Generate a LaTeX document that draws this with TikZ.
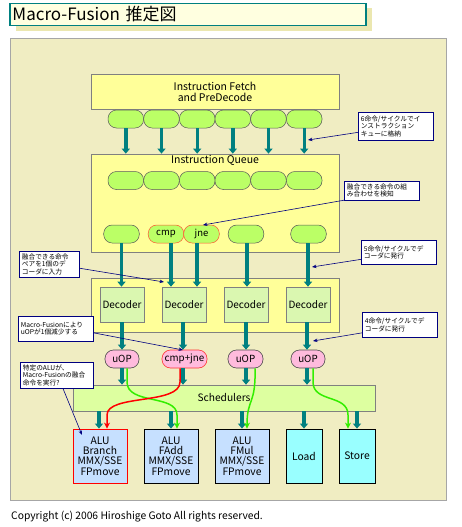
\documentclass[tikz,border=0pt]{standalone}
\usepackage{fontspec}
\setmainfont{Noto Sans CJK JP}
\usetikzlibrary{arrows.meta}
\definecolor{panelc}{HTML}{F0EDC2}
\definecolor{shadowc}{HTML}{EBE7B0}
\definecolor{titlec}{HTML}{FFFFE0}
\definecolor{tealc}{HTML}{008080}
\definecolor{yel}{HTML}{FFFF99}
\definecolor{pillc}{HTML}{BBFF66}
\definecolor{decc}{HTML}{DAF7B0}
\definecolor{schedc}{HTML}{DDFFA0}
\definecolor{pinkc}{HTML}{FFBBDD}
\definecolor{aluc}{HTML}{C6E0FF}
\definecolor{cyanc}{HTML}{99FFFF}
\definecolor{greenc}{HTML}{33EE00}
\definecolor{navyc}{HTML}{000080}
\definecolor{orangec}{HTML}{FF5533}
\tikzset{
  blk/.style={draw=gray, line width=0.7pt, fill=yel, inner sep=0pt},
  pill/.style={draw=gray!70!black, line width=0.5pt, fill=pillc, rounded corners=8.5pt,
    minimum width=35.6pt, minimum height=18pt, inner sep=0pt, font=\fontsize{9.5}{9.5}\selectfont},
  fpill/.style={pill, draw=orangec},
  decbox/.style={draw=gray, line width=0.6pt, fill=decc, minimum width=44pt, minimum height=35pt,
    inner sep=0pt, font=\fontsize{10}{10}\selectfont},
  uop/.style={draw=gray!60!black, line width=0.6pt, fill=pinkc, rounded corners=8.5pt,
    minimum height=18pt, inner sep=0pt, font=\fontsize{9.8}{9.8}\selectfont},
  unit/.style={draw=black, line width=0.8pt, fill=aluc, minimum width=54pt, minimum height=54pt,
    inner sep=0pt, align=center, font=\fontsize{10.3}{10.2}\selectfont},
  cunit/.style={unit, fill=cyanc, minimum width=36pt},
  tarrow/.style={draw=tealc, line width=3.4pt, -{Triangle[width=8pt,length=5pt]}},
  garrow/.style={draw=greenc, line width=1.5pt, -{Stealth[width=6pt,length=6pt]}},
  rarrow/.style={draw=red, line width=1.5pt, -{Stealth[width=6pt,length=6pt]}},
  note/.style={draw=navyc, line width=0.7pt, fill=white, anchor=north west, align=left,
    inner sep=2.5pt, font=\fontsize{6.7}{7.3}\selectfont},
  narrow/.style={draw=navyc, line width=0.6pt, -{Stealth[width=3.5pt,length=4.5pt]}}
}
\begin{document}
\begin{tikzpicture}[x=1pt,y=-1pt]
\useasboundingbox (0,0) rectangle (461,527);
\fill[white] (0,0) rectangle (461,527);
% title
\fill[shadowc] (16,8) rectangle (372,31);
\node[draw=tealc, line width=1.4pt, fill=titlec, minimum width=356pt, minimum height=22pt,
  inner xsep=2.5pt, inner ysep=0pt, text width=351pt, align=left,
  font=\fontsize{17}{17}\selectfont] (title) at (188,14.5) {Macro-Fusion 推定図};
% panel
\node[draw=gray!70, line width=0.8pt, fill=panelc, minimum width=436pt, minimum height=462pt,
  anchor=north west, inner sep=0pt] (panel) at (10,38) {};
% fetch
\node[blk, minimum width=248pt, minimum height=35pt, align=center,
  font=\fontsize{10.5}{11}\selectfont] (fetch) at (215,91.5) {Instruction Fetch\\and PreDecode};
\foreach \i/\x in {1/125.8,2/161.5,3/197.2,4/232.8,5/268.5,6/304.2}{
  \node[pill] (a\i) at (\x,119) {};
}
% instruction queue
\node[blk, minimum width=248pt, minimum height=98pt] (iq) at (215,203) {};
\node[font=\fontsize{10.5}{10.5}\selectfont, inner sep=0pt] (iqt) at (215,160) {Instruction Queue};
\foreach \i/\x in {1/125.8,2/161.5,3/197.2,4/232.8,5/268.5,6/304.2}{
  \node[pill] (b\i) at (\x,180.5) {};
  \draw[tarrow] (a\i.south) -- (a\i.south |- iq.north);
}
\node[pill] (c1) at (121.5,234) {};
\node[fpill] (cmp) at (166,234) {cmp};
\node[fpill] (jne) at (201.5,234) {jne};
\node[pill] (c4) at (246,234) {};
\node[pill] (c5) at (308.5,234) {};
% decoders
\node[blk, minimum width=248pt, minimum height=54pt] (decr) at (215,305) {};
\node[decbox] (d1) at (122,304.5) {Decoder};
\node[decbox] (d2) at (184,304.5) {Decoder};
\node[decbox] (d3) at (246,304.5) {Decoder};
\node[decbox] (d4) at (308,304.5) {Decoder};
\draw[tarrow] (c1.south) -- (c1.south |- d1.north);
\draw[tarrow] (cmp.south -| 171,0) -- (d2.north -| 171,0);
\draw[tarrow] (jne.south -| 197,0) -- (d2.north -| 197,0);
\draw[tarrow] (c4.south -| 247,0) -- (d3.north -| 247,0);
\draw[tarrow] (c5.south -| 308,0) -- (d4.north);
% uops
\node[uop, minimum width=34pt] (u1) at (122,359) {uOP};
\node[uop, minimum width=45pt, draw=red!80] (u2) at (184.5,359) {cmp+jne};
\node[uop, minimum width=35pt] (u3) at (245.5,359) {uOP};
\node[uop, minimum width=34pt] (u4) at (308,359) {uOP};
\draw[tarrow] (d1.south) -- (u1.north);
\draw[tarrow] (d2.south -| 183,0) -- (u2.north -| 183,0);
\draw[tarrow] (d3.south) -- (u3.north -| 246,0);
\draw[tarrow] (d4.south -| 307,0) -- (u4.north -| 307,0);
% schedulers
\node[draw=gray, line width=0.6pt, fill=schedc, minimum width=302pt, minimum height=26pt,
  inner sep=0pt, font=\fontsize{10.2}{10.2}\selectfont] (sch) at (224,398) {Schedulers};
\draw[tarrow] (u1.south) -- (u1.south |- sch.north);
\draw[tarrow] (u2.south -| 183,0) -- (sch.north -| 183,0);
\draw[tarrow] (u3.south -| 246,0) -- (sch.north -| 246,0);
\draw[tarrow] (u4.south -| 307,0) -- (sch.north -| 307,0);
% units
\node[unit, draw=red] (e1) at (100,456) {ALU\\Branch\\MMX/SSE\\FPmove};
\node[unit] (e2) at (171,456) {ALU\\FAdd\\MMX/SSE\\FPmove};
\node[unit] (e3) at (242,456) {ALU\\FMul\\MMX/SSE\\FPmove};
\node[cunit] (e4) at (304,456) {Load};
\node[cunit] (e5) at (357,456) {Store};
\draw[tarrow] (sch.south -| 99,0) -- (e1.north -| 99,0);
\draw[tarrow] (sch.south -| 171,0) -- (e2.north -| 171,0);
\draw[tarrow] (sch.south -| 242,0) -- (e3.north -| 242,0);
\draw[tarrow] (sch.south -| 304,0) -- (e4.north);
\draw[tarrow] (sch.south -| 357,0) -- (e5.north -| 357,0);
% curved arrows
\draw[garrow] (u1.south -| 127,0) -- (127,382) .. controls (127,405) and (177,394) .. (177,415) -- (e2.north -| 177,0);
\draw[rarrow] (u2.south -| 180,0) -- (180,382) .. controls (180,405) and (107,394) .. (107,415) -- (e1.north -| 107,0);
\draw[garrow] (u3.south -| 255,0) .. controls (256,405) and (247,398) .. (e3.north -| 247,0);
\draw[garrow] (u4.south -| 313,0) -- (313,382) .. controls (313,403) and (348,394) .. (348,415) -- (e5.north -| 348,0);
% notes
\node[note, minimum width=75pt, minimum height=28pt, text width=70pt] (n1) at (358,112)
  {6命令/サイクルでイ\\ンストラクション\\キューに格納};
\coordinate (t1) at (308,140);
\draw[narrow] ([yshift=-6pt]n1.west) -- (t1);
\node[note, minimum width=75pt, minimum height=17pt, text width=70pt] (n2) at (344,181)
  {融合できる命令の組\\み合わせを検知};
\coordinate (t2) at (203,225);
\draw[narrow] (n2.south west) -- (t2);
\node[note, minimum width=60pt, minimum height=23pt, text width=55pt] (n3) at (19,251)
  {融合できる命令\\ペアを1個のデ\\コーダに入力};
\coordinate (t3) at (164,282);
\draw[narrow] ([yshift=-4pt]n3.east) -- (t3);
\node[note, minimum width=75pt, minimum height=24pt, text width=70pt] (n4) at (361,240)
  {5命令/サイクルでデ\\コーダに発行};
\coordinate (t4) at (312,267);
\draw[narrow] ([yshift=-7pt]n4.west) -- (t4);
\node[note, minimum width=75pt, minimum height=25pt, text width=70pt] (n5) at (18,316)
  {Macro-Fusionにより\\uOPが1個減少する};
\coordinate (t5) at (183,350);
\draw[narrow] ([yshift=-4pt]n5.east) -- (t5);
\node[note, minimum width=75pt, minimum height=25pt, text width=70pt] (n6) at (362,312)
  {4命令/サイクルでデ\\コーダに発行};
\coordinate (t6) at (313,341);
\draw[narrow] ([yshift=-8pt]n6.west) -- (t6);
\node[note, minimum width=73pt, minimum height=22pt, text width=68pt] (n7) at (20,362)
  {特定のALUが、\\Macro-Fusionの融合\\命令を実行?};
\coordinate (t7) at (82,435);
\draw[narrow] (n7.south -| 63,0) -- (t7);
% copyright
\node[anchor=west, inner sep=0pt, font=\fontsize{10.3}{10.3}\selectfont] (copy) at (11,517)
  {Copyright (c) 2006 Hiroshige Goto All rights reserved.};
\end{tikzpicture}
\end{document}
